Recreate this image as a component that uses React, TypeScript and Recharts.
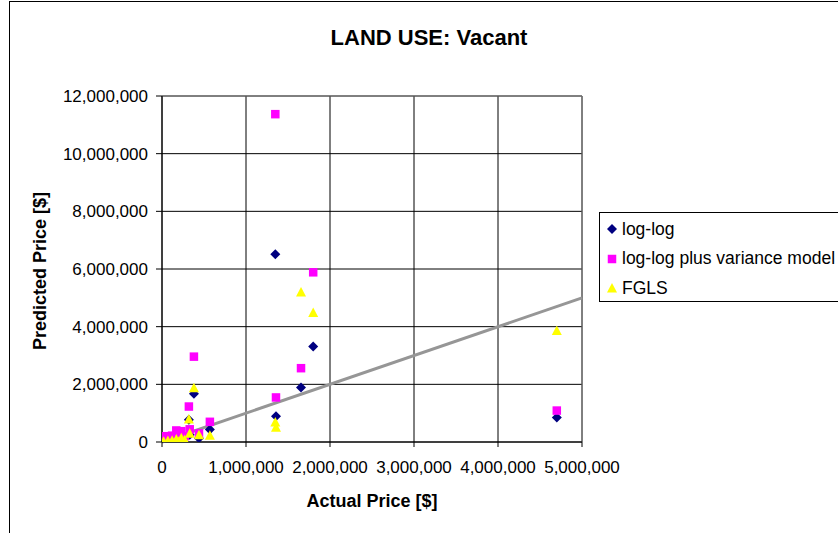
import React from "react";
import {
  ScatterChart,
  Scatter,
  XAxis,
  YAxis,
  CartesianGrid,
  ReferenceLine,
} from "recharts";

// Actual price of each vacant-land observation
const actualPrice = [
  1349000, 1357000, 1655000, 1800000, 4700000, 380000, 320000, 570000,
  440000, 330000, 230000, 20000, 70000, 120000, 170000, 270000, 200000,
];
// Predicted prices per model
const logLogPred = [
  6510000, 896000, 1890000, 3310000, 850000, 1670000, 770000, 430000,
  130000, 250000, 220000, 50000, 80000, 100000, 120000, 150000, 90000,
];
const varModelPred = [
  11370000, 1545000, 2560000, 5885000, 1090000, 2960000, 1230000, 700000,
  300000, 440000, 375000, 200000, 200000, 220000, 400000, 200000, 130000,
];
const fglsPred = [
  690000, 510000, 5200000, 4490000, 3870000, 1880000, 800000, 230000,
  250000, 300000, 150000, 30000, 50000, 60000, 100000, 80000, 20000,
];

const seriesNames = ["log-log", "log-log plus variance model", "FGLS"];
const seriesColors = ["#000080", "#FF00FF", "#FFFF00"];
const xTicks = [0, 1000000, 2000000, 3000000, 4000000, 5000000];
const yTicks = [0, 2000000, 4000000, 6000000, 8000000, 10000000, 12000000];
const diagonal = [
  { x: 0, y: 0 },
  { x: 5000000, y: 5000000 },
];

const FONT = '"Liberation Sans", Arial, sans-serif';
const fmt = (v: number) => v.toLocaleString("en-US");

const toPoints = (vals: number[]) =>
  actualPrice.map((x, i) => ({ x, y: vals[i] }));

const Diamond = (p: any) => {
  const { cx, cy, fill } = p;
  if (cx == null || cy == null) return null;
  return (
    <polygon
      points={`${cx},${cy - 5} ${cx + 5},${cy} ${cx},${cy + 5} ${cx - 5},${cy}`}
      fill={fill}
    />
  );
};
const Square = (p: any) => {
  const { cx, cy, fill } = p;
  if (cx == null || cy == null) return null;
  return <rect x={cx - 4.25} y={cy - 4.25} width={8.5} height={8.5} fill={fill} />;
};
const Triangle = (p: any) => {
  const { cx, cy, fill } = p;
  if (cx == null || cy == null) return null;
  return (
    <polygon
      points={`${cx},${cy - 5} ${cx + 5},${cy + 4.5} ${cx - 5},${cy + 4.5}`}
      fill={fill}
    />
  );
};
const shapes = [Diamond, Square, Triangle];

const LegendMarker = ({ i }: { i: number }) => {
  const S = shapes[i];
  return (
    <svg width={12} height={12} style={{ display: "block" }}>
      <S cx={6} cy={6} fill={seriesColors[i]} />
    </svg>
  );
};

export default function App() {
  const series = [logLogPred, varModelPred, fglsPred];
  return (
    <div
      style={{
        position: "absolute",
        left: 0,
        top: 0,
        width: 838,
        height: 533,
        overflow: "hidden",
        background: "#fff",
        fontFamily: FONT,
      }}
    >
      <div
        style={{
          position: "absolute",
          left: 9,
          top: 1,
          width: 900,
          height: 600,
          border: "1px solid #000",
        }}
      />
      <div style={{ position: "absolute", left: 0, top: 0 }}>
        <ScatterChart
          width={838}
          height={533}
          margin={{ top: 96, right: 256, bottom: 61, left: 62 }}
        >
          <CartesianGrid stroke="#000" strokeWidth={1} />
          <XAxis
            type="number"
            dataKey="x"
            domain={[0, 5000000]}
            ticks={xTicks}
            interval={0}
            tickFormatter={fmt}
            height={30}
            tickSize={5}
            tickMargin={14}
            stroke="#000"
            tick={{ fill: "#000", fontSize: 17, fontFamily: FONT }}
            allowDataOverflow
          />
          <YAxis
            type="number"
            dataKey="y"
            domain={[0, 12000000]}
            ticks={yTicks}
            interval={0}
            tickFormatter={fmt}
            width={100}
            tickSize={6}
            tickMargin={8}
            stroke="#000"
            tick={{ fill: "#000", fontSize: 17, fontFamily: FONT }}
            allowDataOverflow
          />
          <ReferenceLine y={12000000} stroke="#808080" strokeWidth={1} />
          <ReferenceLine x={5000000} stroke="#808080" strokeWidth={1} />
          {series.map((vals, i) => (
            <Scatter
              key={seriesNames[i]}
              name={seriesNames[i]}
              data={toPoints(vals)}
              fill={seriesColors[i]}
              shape={shapes[i]}
              isAnimationActive={false}
            />
          ))}
          <ReferenceLine
            segment={diagonal}
            stroke="#969696"
            strokeWidth={3}
          />
        </ScatterChart>
      </div>

      <div
        style={{
          position: "absolute",
          left: 229,
          width: 400,
          top: 27,
          textAlign: "center",
          fontSize: 22,
          fontWeight: "bold",
          lineHeight: "22px",
        }}
      >
        LAND USE: Vacant
      </div>
      <div
        style={{
          position: "absolute",
          left: 222,
          width: 300,
          top: 491,
          textAlign: "center",
          fontSize: 18,
          fontWeight: "bold",
          lineHeight: "20px",
        }}
      >
        Actual Price [$]
      </div>
      <div
        style={{
          position: "absolute",
          left: 40 - 150,
          width: 300,
          top: 271 - 10,
          textAlign: "center",
          fontSize: 18,
          fontWeight: "bold",
          lineHeight: "20px",
          transform: "rotate(-90deg)",
        }}
      >
        Predicted Price [$]
      </div>

      <div
        style={{
          position: "absolute",
          left: 599,
          top: 212,
          width: 260,
          height: 88,
          border: "1px solid #000",
          background: "#fff",
        }}
      >
        {seriesNames.map((name, i) => (
          <div
            key={name}
            style={{
              position: "absolute",
              left: 6,
              top: 16 + i * 29.5 - 10,
              height: 20,
              display: "flex",
              alignItems: "center",
              whiteSpace: "nowrap",
              fontSize: 17.5,
            }}
          >
            <LegendMarker i={i} />
            <span style={{ marginLeft: 4 }}>{name}</span>
          </div>
        ))}
      </div>
    </div>
  );
}
